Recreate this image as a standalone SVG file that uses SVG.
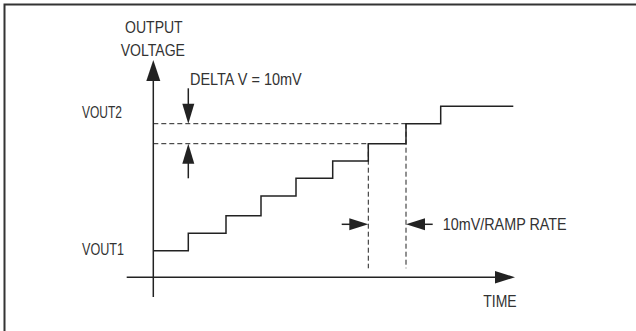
<svg xmlns="http://www.w3.org/2000/svg" width="636" height="331" viewBox="0 0 636 331">
<style>
text{font-family:"Liberation Sans",Arial,sans-serif;font-size:17px;fill:#333}
.ln{stroke:#222;stroke-width:1.5;fill:none}
.dash{stroke:#222;stroke-width:1;fill:none;stroke-dasharray:5,3}
.ah{fill:#222;stroke:none}
</style>
<rect width="636" height="331" fill="#fff"/>
<g id="frame">
<path d="M4.5 331 V4.5 H636" stroke="#333" stroke-width="2" fill="none"/>
</g>
<g id="labels">
<text x="125" y="33" textLength="57.7" lengthAdjust="spacingAndGlyphs">OUTPUT</text>
<text x="120.7" y="56" textLength="64.3" lengthAdjust="spacingAndGlyphs">VOLTAGE</text>
<text x="190" y="85" textLength="111.7" lengthAdjust="spacingAndGlyphs">DELTA V = 10mV</text>
<text x="82" y="118" textLength="40" lengthAdjust="spacingAndGlyphs">VOUT2</text>
<text x="82" y="255" textLength="42" lengthAdjust="spacingAndGlyphs">VOUT1</text>
<text x="442.7" y="230" textLength="124" lengthAdjust="spacingAndGlyphs">10mV/RAMP RATE</text>
<text x="483.3" y="307" textLength="33.4" lengthAdjust="spacingAndGlyphs">TIME</text>
</g>
<g id="axes">
<path class="ln" d="M153.3 297 V78"/>
<path class="ah" d="M153.3 60 L146.3 81 L160.3 81 Z"/>
<path class="ln" d="M126.7 277.3 H498"/>
<path class="ah" d="M515 277.3 L495 271 L495 283.6 Z"/>
</g>
<g id="staircase">
<path class="ln" d="M153.3 250.7 H188.3 V233.3 H226 V215.7 H261 V196 H296 V178.3 H332.7 V161 H368.3 V143.7 H406 V123.7 H440.7 V106.3 H513.3"/>
</g>
<g id="connectors">
<path class="dash" d="M153.3 123.7 H406 M153.3 143.7 H368.3 M368.3 143.7 V268.3 M406 123.7 V268.3"/>
<path class="ln" d="M188.3 88.3 V106"/>
<path class="ah" d="M188.3 123.7 L182.3 103.7 L194.3 103.7 Z"/>
<path class="ln" d="M188.3 178.3 V161"/>
<path class="ah" d="M188.3 143.7 L182.3 163.7 L194.3 163.7 Z"/>
<path class="ln" d="M341.7 224.3 H352"/>
<path class="ah" d="M368.3 224.3 L349.3 218.3 L349.3 230.3 Z"/>
<path class="ln" d="M432.7 224.3 H422"/>
<path class="ah" d="M406 224.3 L425 218.3 L425 230.3 Z"/>
</g>
</svg>
